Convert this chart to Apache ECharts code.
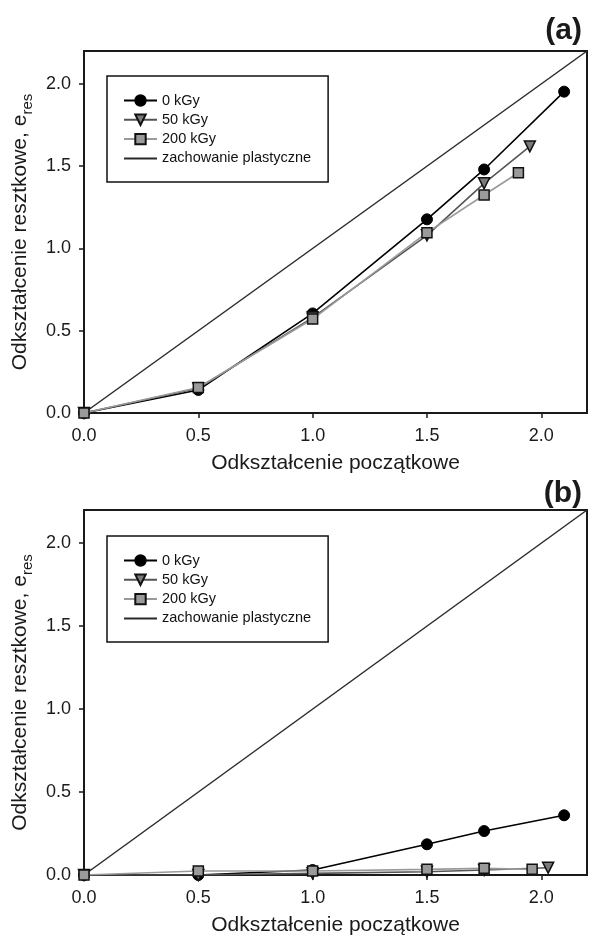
<!DOCTYPE html>
<html>
<head>
<meta charset="utf-8">
<script src="https://cdn.jsdelivr.net/npm/echarts@6/dist/echarts.min.js"></script>
<style>
  html, body { margin: 0; padding: 0; background: #fff; }
  #chart { width: 589px; height: 938px; }
</style>
</head>
<body>
<div id="chart"></div>
<script>
  var xTicks = [0, 0.5, 1.0, 1.5, 2.0];
  var yTicks = [0, 0.5, 1.0, 1.5, 2.0];
  var names = ['0 kGy', '50 kGy', '200 kGy', 'zachowanie plastyczne'];

  // panel (a)
  var a0x = [0, 0.5, 1.0, 1.5, 1.75, 2.1];
  var a0y = [0, 0.14, 0.605, 1.177, 1.48, 1.953];
  var a50x = [0, 0.5, 1.0, 1.5, 1.75, 1.95];
  var a50y = [0, 0.15, 0.58, 1.08, 1.396, 1.62];
  var a200x = [0, 0.5, 1.0, 1.5, 1.75, 1.9];
  var a200y = [0, 0.155, 0.571, 1.096, 1.325, 1.46];

  // panel (b)
  var b0x = [0, 0.5, 1.0, 1.5, 1.75, 2.1];
  var b0y = [0, 0.0, 0.03, 0.185, 0.265, 0.36];
  var b50x = [0, 0.5, 1.0, 1.5, 1.75, 2.03];
  var b50y = [0, 0.0, 0.01, 0.02, 0.03, 0.044];
  var b200x = [0, 0.5, 1.0, 1.5, 1.75, 1.96];
  var b200y = [0, 0.024, 0.024, 0.034, 0.04, 0.034];

  var plasticX = [0, 2.2];
  var plasticY = [0, 2.2];

  function pairs(xs, ys) {
    return xs.map(function (x, i) { return [x, ys[i]]; });
  }

  var font = 'Liberation Sans, Arial, sans-serif';

  function xAxisFor(idx) {
    return {
      gridIndex: idx, type: 'value', min: 0, max: 2.2,
      name: 'Odkształcenie początkowe', nameLocation: 'middle', nameGap: 40,
      nameTextStyle: { fontSize: 21, color: '#1a1a1a', fontFamily: font },
      axisLine: { lineStyle: { color: '#1a1a1a', width: 2 } },
      axisTick: { show: true, length: 5, inside: false, customValues: xTicks, lineStyle: { color: '#1a1a1a', width: 1.5 } },
      axisLabel: { customValues: xTicks, margin: 14, fontSize: 18, color: '#1a1a1a', fontFamily: font,
        formatter: function (v) { return v.toFixed(1); } },
      splitLine: { show: false }
    };
  }

  function yAxisFor(idx) {
    return {
      gridIndex: idx, type: 'value', min: 0, max: 2.2,
      name: '{a|Odkształcenie resztkowe, e}{s|res}', nameLocation: 'middle', nameGap: 45, nameRotate: 90,
      nameTextStyle: {
        fontFamily: font, color: '#1a1a1a',
        rich: {
          a: { fontSize: 21, lineHeight: 30, color: '#1a1a1a', fontFamily: font },
          s: { fontSize: 15, verticalAlign: 'bottom', color: '#1a1a1a', fontFamily: font }
        }
      },
      axisLine: { lineStyle: { color: '#1a1a1a', width: 2 } },
      axisTick: { show: true, length: 5, inside: false, customValues: yTicks, lineStyle: { color: '#1a1a1a', width: 1.5 } },
      axisLabel: { customValues: yTicks, margin: 13, fontSize: 18, color: '#1a1a1a', fontFamily: font,
        formatter: function (v) { return v.toFixed(1); } },
      splitLine: { show: false }
    };
  }

  function seriesFor(idx, d0, d50, d200) {
    return [
      {
        name: names[0], type: 'line', xAxisIndex: idx, yAxisIndex: idx, data: d0,
        symbol: 'circle', symbolSize: 11, z: 3,
        lineStyle: { color: '#000', width: 1.6 },
        itemStyle: { color: '#000', borderColor: '#000', borderWidth: 1 }
      },
      {
        name: names[1], type: 'line', xAxisIndex: idx, yAxisIndex: idx, data: d50,
        symbol: 'triangle', symbolRotate: 180, symbolSize: 11, z: 4,
        lineStyle: { color: '#555', width: 1.6 },
        itemStyle: { color: '#7a7a7a', borderColor: '#111', borderWidth: 1.5 }
      },
      {
        name: names[2], type: 'line', xAxisIndex: idx, yAxisIndex: idx, data: d200,
        symbol: 'rect', symbolSize: 10, z: 5,
        lineStyle: { color: '#9a9a9a', width: 1.6 },
        itemStyle: { color: '#9a9a9a', borderColor: '#111', borderWidth: 1.5 }
      },
      {
        name: names[3], type: 'line', xAxisIndex: idx, yAxisIndex: idx, data: pairs(plasticX, plasticY),
        symbol: 'none', z: 2,
        lineStyle: { color: '#2a2a2a', width: 1.5 },
        itemStyle: { color: '#2a2a2a' }
      }
    ];
  }

  var hidden = 'rgba(0,0,0,0)';

  function legendFor(top) {
    return {
      data: [
        { name: names[0] },
        { name: names[1] },
        { name: names[2] },
        { name: names[3], itemStyle: { color: hidden, borderColor: hidden, borderWidth: 0 } }
      ],
      orient: 'vertical', left: 107, top: top,
      padding: [17, 17, 16, 16], itemGap: 4.3, itemWidth: 33, itemHeight: 13,
      borderColor: '#111', borderWidth: 1.5, selectedMode: false,
      textStyle: { fontSize: 14.5, color: '#111', fontFamily: font }
    };
  }

  var chart = echarts.init(document.getElementById('chart'));
  chart.setOption({
    backgroundColor: '#fff',
    animation: false,
    title: [
      { text: '(a)', right: 2, top: 11, textStyle: { fontSize: 30, fontWeight: 'bold', color: '#1a1a1a', fontFamily: font } },
      { text: '(b)', right: 2, top: 474, textStyle: { fontSize: 30, fontWeight: 'bold', color: '#1a1a1a', fontFamily: font } }
    ],
    legend: [legendFor(76), legendFor(536)],
    grid: [
      { left: 84, right: 2, top: 51, height: 362, show: true, borderColor: '#1a1a1a', borderWidth: 2, backgroundColor: 'transparent' },
      { left: 84, right: 2, top: 510, height: 365, show: true, borderColor: '#1a1a1a', borderWidth: 2, backgroundColor: 'transparent' }
    ],
    xAxis: [xAxisFor(0), xAxisFor(1)],
    yAxis: [yAxisFor(0), yAxisFor(1)],
    series: seriesFor(0, pairs(a0x, a0y), pairs(a50x, a50y), pairs(a200x, a200y))
      .concat(seriesFor(1, pairs(b0x, b0y), pairs(b50x, b50y), pairs(b200x, b200y)))
  });
</script>
</body>
</html>
